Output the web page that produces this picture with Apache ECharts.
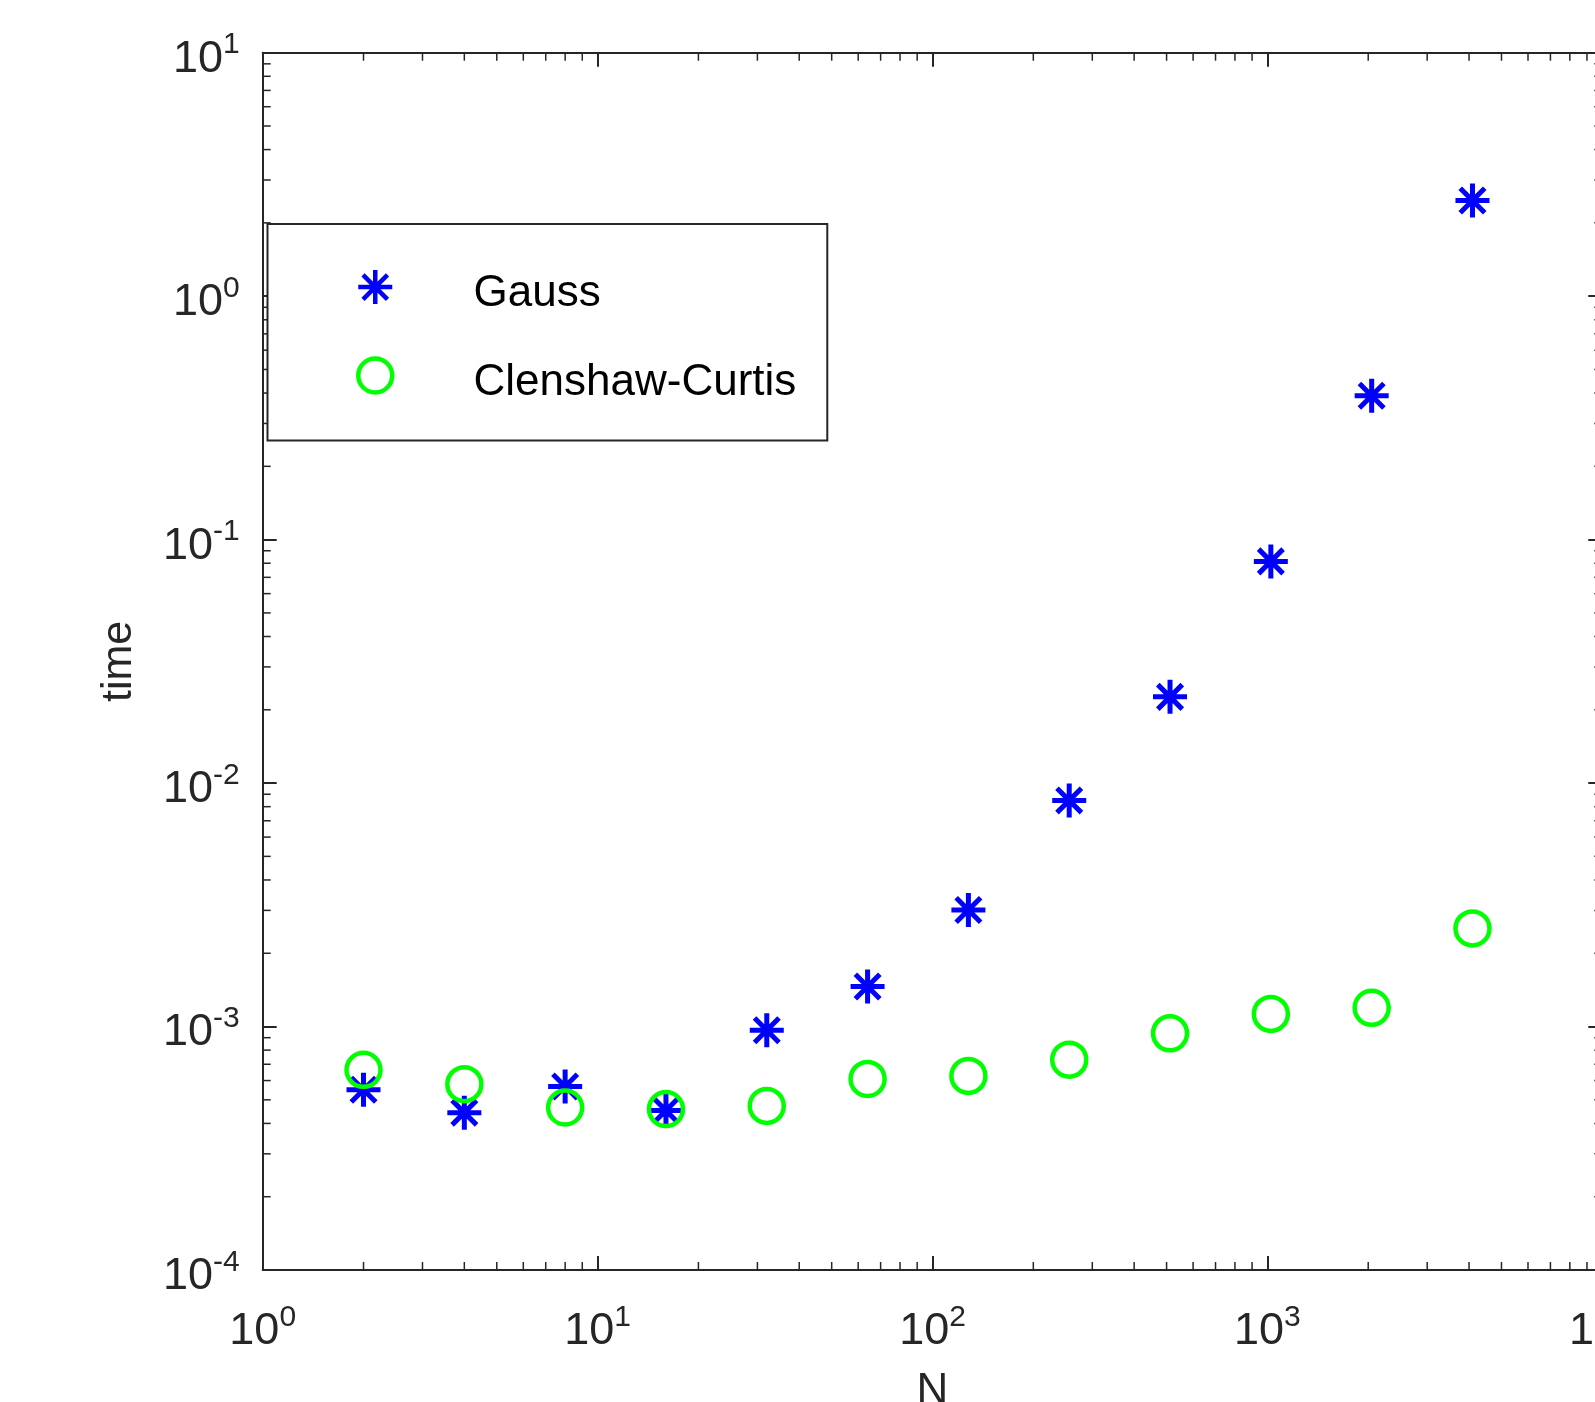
<!DOCTYPE html>
<html>
<head>
<meta charset="utf-8">
<script src="https://cdn.jsdelivr.net/npm/echarts@6/dist/echarts.min.js"></script>
<style>
html,body{margin:0;padding:0;background:#fff;}
#chart{width:1595px;height:1402px;}
</style>
</head>
<body>
<div id="chart"></div>
<script>
// ---- data ----
const N = [2, 4, 8, 16, 32, 64, 128, 256, 512, 1024, 2048, 4096];
const gaussTime = [5.50e-4, 4.43e-4, 5.67e-4, 4.52e-4, 9.66e-4, 1.46e-3, 3.01e-3, 8.49e-3, 0.0226, 0.0814, 0.390, 2.47];
const ccTime = [6.64e-4, 5.80e-4, 4.65e-4, 4.58e-4, 4.72e-4, 6.09e-4, 6.27e-4, 7.31e-4, 9.38e-4, 1.127e-3, 1.194e-3, 2.53e-3];
const seriesNames = ['Gauss', 'Clenshaw-Curtis'];
const xMin = 1, xMax = 10000;
const yMin = 1e-4, yMax = 10;
const xDecades = [1, 10, 100, 1000];
const yDecades = [1e-4, 1e-3, 1e-2, 1e-1, 1];
const minorMultipliers = [2, 3, 4, 5, 6, 7, 8, 9];

const xMinorTicks = [];
xDecades.forEach(d => minorMultipliers.forEach(m => xMinorTicks.push(d * m)));
const yMinorTicks = [];
yDecades.forEach(d => minorMultipliers.forEach(m => yMinorTicks.push(d * m)));

const AX = '#262626';
const FONT = "'Liberation Sans', Arial, Helvetica, sans-serif";

const chart = echarts.init(document.getElementById('chart'), null, {renderer: 'canvas'});

function powLabel(v) {
  const e = Math.round(Math.log10(v));
  return '{b|10}{s|' + e + '}';
}
const richLabel = {
  b: {fontSize: 45, lineHeight: 58, fontFamily: FONT, color: AX},
  s: {fontSize: 30, lineHeight: 22, verticalAlign: 'top', fontFamily: FONT, color: AX}
};

const minorLen = 8;
function xMinorRender(params, api) {
  const v = api.value(0);
  const pb = api.coord([v, yMin]);
  const pt = api.coord([v, yMax]);
  const style = {stroke: AX, lineWidth: 1.5};
  return {type: 'group', children: [
    {type: 'line', shape: {x1: pb[0], y1: pb[1], x2: pb[0], y2: pb[1] - minorLen}, style},
    {type: 'line', shape: {x1: pt[0], y1: pt[1], x2: pt[0], y2: pt[1] + minorLen}, style}
  ]};
}
function yMinorRender(params, api) {
  const v = api.value(1);
  const pl = api.coord([xMin, v]);
  const pr = api.coord([xMax, v]);
  const style = {stroke: AX, lineWidth: 1.5};
  return {type: 'group', children: [
    {type: 'line', shape: {x1: pl[0], y1: pl[1], x2: pl[0] + minorLen, y2: pl[1]}, style},
    {type: 'line', shape: {x1: pr[0], y1: pr[1], x2: pr[0] - minorLen, y2: pr[1]}, style}
  ]};
}

const starPath = 'path://M0,-1L0,1M-1,0L1,0M-0.72,-0.72L0.72,0.72M-0.72,0.72L0.72,-0.72';

const axisCommon = {
  type: 'log', logBase: 10,
  axisLine: {show: true, onZero: false, lineStyle: {color: AX, width: 2}},
  axisTick: {show: true, inside: true, length: 14, lineStyle: {color: AX, width: 2}},
  splitLine: {show: false},
  minorTick: {show: false}
};

const option = {
  animation: false,
  backgroundColor: '#ffffff',
  grid: {left: 262.7, top: 52.7, width: 1339.6, height: 1217.3, containLabel: false, outerBoundsMode: 'none'},
  legend: {
    data: seriesNames,
    orient: 'vertical',
    left: 267.5, top: 224,
    padding: [43.8, 31, 35.9, 88.5],
    itemWidth: 34, itemHeight: 34, itemGap: 40.2,
    borderColor: AX, borderWidth: 2,
    backgroundColor: '#ffffff',
    itemStyle: {borderWidth: 4.5},
    formatter: name => '{sp| }{t|' + name + '}',
    textStyle: {
      fontSize: 44, fontFamily: FONT, color: '#000', padding: [0, 0, 0, 76],
      rich: {
        sp: {fontSize: 1, lineHeight: 58},
        t: {fontSize: 44, lineHeight: 44, verticalAlign: 'bottom', fontFamily: FONT, color: '#000'}
      }
    }
  },
  xAxis: [
    Object.assign({}, axisCommon, {
      position: 'bottom', min: xMin, max: xMax,
      name: 'N', nameLocation: 'middle', nameGap: 100,
      nameTextStyle: {fontSize: 44, fontFamily: FONT, color: AX},
      axisLabel: {show: true, margin: 32.7, formatter: powLabel, rich: richLabel, showMinLabel: true, showMaxLabel: true, hideOverlap: false}
    }),
    Object.assign({}, axisCommon, {
      position: 'top', min: xMin, max: xMax, axisLabel: {show: false}
    })
  ],
  yAxis: [
    Object.assign({}, axisCommon, {
      position: 'left', min: yMin, max: yMax,
      name: 'time', nameLocation: 'middle', nameGap: 122, nameRotate: 90,
      nameTextStyle: {fontSize: 43, fontFamily: FONT, color: AX},
      axisLabel: {show: true, margin: 23, padding: [13, 0, 0, 0], formatter: powLabel, rich: richLabel, showMinLabel: true, showMaxLabel: true, hideOverlap: false}
    }),
    Object.assign({}, axisCommon, {
      position: 'right', min: yMin, max: yMax, axisLabel: {show: false}
    })
  ],
  series: [
    {
      type: 'custom', name: 'xminor', xAxisIndex: 0, yAxisIndex: 0, silent: true, z: 1,
      renderItem: xMinorRender,
      data: xMinorTicks.map(v => [v, yMin])
    },
    {
      type: 'custom', name: 'yminor', xAxisIndex: 0, yAxisIndex: 0, silent: true, z: 1,
      renderItem: yMinorRender,
      data: yMinorTicks.map(v => [xMin, v])
    },
    {
      type: 'scatter', name: seriesNames[0], xAxisIndex: 0, yAxisIndex: 0, z: 3,
      symbol: starPath, symbolSize: 34,
      itemStyle: {color: 'rgba(0,0,0,0)', borderColor: '#0000ff', borderWidth: 5, opacity: 1},
      data: N.map((n, i) => [n, gaussTime[i]])
    },
    {
      type: 'scatter', name: seriesNames[1], xAxisIndex: 0, yAxisIndex: 0, z: 4,
      symbol: 'circle', symbolSize: 34,
      itemStyle: {color: 'rgba(0,0,0,0)', borderColor: '#00ff00', borderWidth: 4.5, opacity: 1},
      data: N.map((n, i) => [n, ccTime[i]])
    }
  ]
};
chart.setOption(option);
</script>
</body>
</html>
